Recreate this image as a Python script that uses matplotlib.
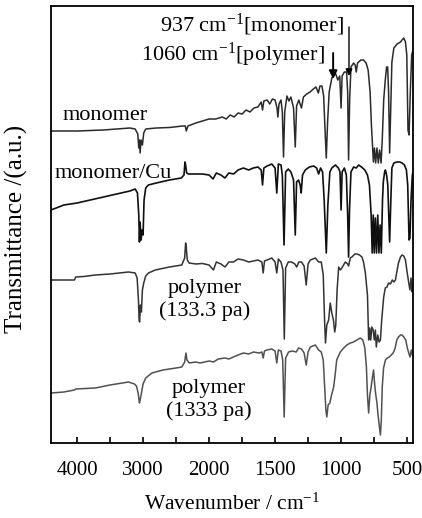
import numpy as np
import matplotlib
matplotlib.use("Agg")
import matplotlib.pyplot as plt
from matplotlib.ticker import FixedLocator, NullLocator, FixedFormatter

plt.rcParams['font.family'] = ['Liberation Serif', 'DejaVu Serif']
plt.rcParams['mathtext.fontset'] = 'custom'
plt.rcParams['mathtext.rm'] = 'Liberation Serif'
plt.rcParams['mathtext.it'] = 'Liberation Serif'

# ---------------- data (wavenumber in cm^-1, transmittance in a.u.) ----------------
mono_wn = [4395, 4200, 4000, 3800, 3600, 3400, 3200, 3120, 3080, 3065, 3055, 3045, 3030, 3010, 2990, 2960,
           2800, 2600, 2400, 2360, 2345, 2320, 2200, 2100, 2000, 1950, 1900, 1870, 1840, 1810, 1780, 1750,
           1720, 1690, 1660, 1630, 1605, 1595, 1585, 1560, 1540, 1520, 1500, 1485, 1479, 1470, 1455, 1445,
           1436, 1427, 1410, 1395, 1380, 1360, 1347, 1337, 1320, 1300, 1285, 1260, 1235, 1210, 1190, 1172,
           1160, 1145, 1132, 1122, 1112, 1102, 1090, 1070, 1055, 1040, 1025, 1010, 1000, 992, 975, 958,
           950, 943, 935, 925, 905, 893, 885, 875, 850, 830, 810, 795, 780, 770, 762, 755, 747, 738, 728,
           718, 708, 697, 688, 677, 665, 655, 647, 640, 632, 624, 615, 600, 575, 550, 538, 525, 512, 502,
           493, 485, 475, 465, 455]
mono_t = [319, 319, 319, 319.5, 320, 321, 322, 321, 316, 302, 310, 297, 310, 305, 317, 321,
          322, 322.5, 324, 324, 319, 324, 327, 329, 331, 331, 333, 331, 335, 333, 337, 336,
          340, 338, 342, 343, 348, 340, 349, 350, 346, 351, 350, 342, 333, 346, 350, 338,
          293, 338, 354, 349, 353, 342, 303, 344, 350, 342, 353, 356, 358, 361, 363, 357,
          364, 364, 354, 322, 292, 328, 358, 372, 375, 376, 370, 374, 342, 374, 378, 378,
          358, 290, 350, 383, 387, 385, 378, 387, 390, 390, 387, 380, 358, 325, 305, 288, 302, 287, 302,
          287, 300, 287, 310, 350, 370, 383, 383, 358, 297, 340, 388, 402, 406, 408, 410, 412, 408, 395,
          320, 315, 360, 395, 400]

cu_wn = [4395, 4200, 4000, 3800, 3600, 3400, 3200, 3120, 3085, 3065, 3055, 3045, 3030, 3015, 3000, 2985,
         2960, 2920, 2800, 2600, 2420, 2380, 2365, 2355, 2340, 2310, 2200, 2100, 2000, 1970, 1945, 1910,
         1880, 1850, 1815, 1780, 1740, 1700, 1665, 1630, 1605, 1595, 1585, 1560, 1525, 1500, 1487, 1475,
         1455, 1445, 1432, 1420, 1400, 1380, 1360, 1347, 1337, 1322, 1310, 1302, 1292, 1271, 1240, 1208,
         1185, 1170, 1155, 1140, 1128, 1112, 1100, 1085, 1070, 1043, 1020, 1008, 1000, 992, 975, 960,
         950, 943, 936, 925, 905, 885, 867, 845, 820, 800, 785, 772, 764, 756, 748, 740, 731, 722, 713,
         704, 695, 686, 680, 670, 664, 655, 646, 640, 632, 624, 615, 600, 577, 555, 538, 520, 505, 495,
         485, 478, 470, 460, 455]
cu_t = [240, 245, 247, 250, 253, 256, 259, 261, 257, 235, 208, 228, 210, 220, 215, 250,
        262, 265, 267, 270, 272, 275, 288, 285, 277, 276, 276, 276, 275, 271, 277, 275,
        272, 277, 276, 280, 282, 280, 282, 283, 280, 265, 282, 284, 286, 282, 257, 286,
        285, 275, 205, 278, 281, 278, 270, 215, 268, 270, 265, 257, 275, 280, 283, 284,
        282, 276, 282, 278, 250, 197, 245, 278, 282, 285, 282, 278, 240, 278, 282, 275,
        235, 193, 240, 278, 283, 282, 285, 283, 280, 275, 265, 235, 197, 235, 197, 232, 197, 235, 197,
        225, 197, 250, 268, 278, 280, 275, 265, 240, 208, 245, 282, 287, 288, 288, 287, 285, 280, 265,
        210, 212, 250, 275, 278]

p133_wn = [4395, 4100, 4040, 4020, 3900, 3724, 3500, 3220, 3120, 3090, 3070, 3060, 3052, 3040, 3025, 3010,
           2990, 2960, 2918, 2816, 2600, 2413, 2370, 2355, 2345, 2330, 2302, 2200, 2100, 2000, 1967, 1945,
           1910, 1879, 1850, 1816, 1780, 1740, 1700, 1665, 1630, 1600, 1590, 1580, 1560, 1525, 1500, 1487,
           1475, 1455, 1440, 1430, 1420, 1400, 1375, 1350, 1336, 1320, 1300, 1280, 1264, 1250, 1233, 1195,
           1170, 1150, 1135, 1125, 1118, 1108, 1094, 1082, 1070, 1058, 1048, 1040, 1030, 1018, 1005, 994,
           968, 950, 943, 930, 918, 895, 880, 860, 842, 830, 816, 800, 791, 783, 775, 767, 757, 748, 740,
           733, 722, 712, 702, 692, 677, 665, 652, 640, 626, 612, 600, 588, 575, 565, 550, 538, 525, 512,
           500, 487, 478, 470, 462, 455]
p133_t = [170, 170, 170, 173, 173.5, 175, 176, 178, 177, 172, 150, 130, 128, 145, 138, 160,
          167, 174, 177, 180, 183, 185, 192, 207, 202, 190, 187, 186, 186.5, 185, 180, 188,
          186, 183, 188, 188, 191, 190, 188, 189, 190, 188, 177, 189, 190, 192, 188, 177,
          191, 188, 180, 111, 182, 188, 188, 186, 183, 188, 188, 184, 165, 186, 190, 192,
          188, 188, 175, 130, 107, 125, 130, 147, 137, 130, 118, 125, 160, 183, 180, 182,
          188, 186, 184, 192, 193, 196, 196, 195, 193, 188, 177, 155, 110, 122, 110, 123, 120, 110, 120,
          103, 115, 108, 110, 130, 153, 162, 163, 167, 166, 170, 168, 170, 180, 187, 193, 195, 194, 190,
          178, 167, 160, 172, 158, 165]

p1333_wn = [4395, 4200, 4040, 4020, 3724, 3500, 3220, 3130, 3100, 3075, 3055, 3045, 3030, 3000, 2960, 2866,
            2700, 2500, 2413, 2370, 2350, 2335, 2300, 2200, 2136, 2000, 1967, 1930, 1879, 1850, 1816, 1780,
            1740, 1700, 1664, 1620, 1600, 1590, 1580, 1562, 1525, 1500, 1487, 1475, 1455, 1442, 1431, 1420,
            1398, 1370, 1340, 1322, 1300, 1280, 1264, 1250, 1233, 1195, 1170, 1150, 1135, 1125, 1115, 1108,
            1098, 1085, 1072, 1056, 1045, 1033, 1006, 980, 956, 930, 905, 880, 854, 835, 820, 808, 800, 791,
            782, 772, 763, 754, 745, 737, 728, 720, 711, 702, 695, 688, 678, 664, 650, 635, 620, 605, 590,
            578, 565, 550, 538, 525, 510, 498, 487, 478, 468, 458, 455]
p1333_t = [57, 58, 60, 61, 62, 65, 68, 66, 64, 57, 47, 50, 55, 66, 72, 77,
           80, 82, 83, 88, 97, 90, 87, 88, 87, 89, 88, 91, 92, 91, 93, 95,
           97, 96, 98, 97, 98, 92, 99, 100, 101, 99, 87, 100, 99, 90, 33, 92,
           98, 99, 98, 102, 101, 97, 85, 98, 103, 105, 100, 98, 90, 65, 40, 33,
           45, 47, 55, 63, 75, 90, 98, 102, 105, 107, 108, 110, 112, 110, 102, 83, 55, 37,
           55, 63, 72, 80, 65, 55, 47, 35, 25, 15, 30, 63, 82, 90, 92, 93, 95, 97, 102,
           110, 113, 115, 115, 113, 110, 102, 97, 93, 100, 94, 94]

spectra_labels = ["monomer", "monomer/Cu", "polymer\n(133.3 pa)", "polymer\n(1333 pa)"]
major_ticks = [4000, 3000, 2000, 1500, 1000, 500]
minor_ticks = [3500, 2500, 1750, 1250, 750]
mark_937 = 937
mark_1060 = 1060

# ---------------- piecewise wavenumber scale (x2 expansion below 2000) ----------------
def fwd(x):
    x = np.asarray(x, dtype=float)
    return np.where(x <= 2000, x, 2000 + (x - 2000) / 2.0)

def inv(y):
    y = np.asarray(y, dtype=float)
    return np.where(y <= 2000, y, 2000 + (y - 2000) * 2.0)

fig = plt.figure(figsize=(4.22, 5.18), dpi=100)
ax = fig.add_axes([51 / 422, 1 - 443 / 518, (413 - 51) / 422, (443 - 6) / 518])
ax.set_xscale('function', functions=(fwd, inv))

ax.plot(mono_wn, mono_t, color='#2a2a2a', lw=1.1)
ax.plot(cu_wn, cu_t, color='#101010', lw=1.2)
ax.plot(p133_wn, p133_t, color='#333333', lw=1.1)
ax.plot(p1333_wn, p1333_t, color='#505050', lw=1.1)

ax.set_xlim(4395, 455)
ax.set_ylim(7, 444)

ax.xaxis.set_major_locator(FixedLocator(major_ticks))
ax.xaxis.set_minor_locator(FixedLocator(minor_ticks))
ax.xaxis.set_major_formatter(FixedFormatter([str(t) for t in major_ticks]))
ax.yaxis.set_major_locator(NullLocator())
ax.yaxis.set_minor_locator(NullLocator())
ax.tick_params(axis='x', which='both', direction='in', top=False, labelsize=15, pad=13, width=1.2)
ax.tick_params(axis='x', which='major', length=4)
ax.tick_params(axis='x', which='minor', length=4)
for s in ax.spines.values():
    s.set_linewidth(1.3)

ax.set_xlabel(r'Wavenumber / cm$^{-1}$', fontsize=15.5, labelpad=10)
ax.set_ylabel('Transmittance /(a.u.)', fontsize=18)
ax.yaxis.set_label_coords(-0.064, 0.49)

fs = 16
ax.text(4223, 335, spectra_labels[0], fontsize=fs, ha='left', va='center')
ax.text(4344, 277, spectra_labels[1], fontsize=fs, ha='left', va='center')
ax.text(2060, 150, spectra_labels[2], fontsize=fs, ha='center', va='center', linespacing=1.25)
ax.text(2000, 50, spectra_labels[3], fontsize=fs, ha='center', va='center', linespacing=1.25)

ax.text(983, 425, r'937 cm$^{-1}$[monomer]', fontsize=fs, ha='right', va='center')
ax.text(1120, 395, r'1060 cm$^{-1}$[polymer]', fontsize=fs, ha='right', va='center')

ax.annotate('', xy=(mark_1060, 371), xytext=(mark_1060, 397),
            arrowprops=dict(arrowstyle='-|>', color='black', lw=1.4, mutation_scale=12,
                            shrinkA=0, shrinkB=0))
ax.annotate('', xy=(mark_937 + 3, 374), xytext=(mark_937 + 3, 423),
            arrowprops=dict(arrowstyle='-|>', color='black', lw=1.0, mutation_scale=10,
                            shrinkA=0, shrinkB=0))

fig.savefig('out.png', dpi=100)
